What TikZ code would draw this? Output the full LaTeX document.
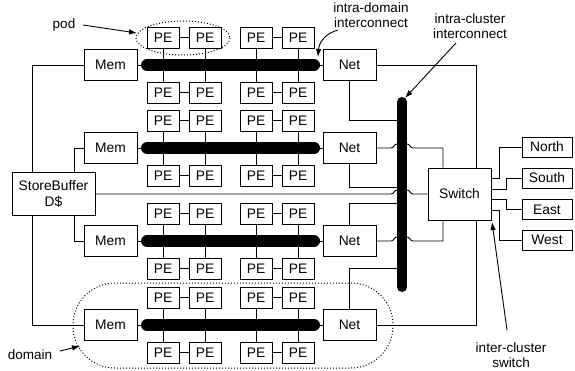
\documentclass[tikz,border=0pt]{standalone}
\usepackage{fontspec}
\setmainfont{Liberation Sans}
\usetikzlibrary{arrows.meta,calc}
\begin{document}
\begin{tikzpicture}[x=1pt,y=-1pt,line width=0.9pt,
  box/.style={draw,fill=white,inner sep=0pt,font=\fontsize{13.8}{16}\selectfont},
  pebox/.style={box,minimum width=32pt,minimum height=21pt},
  membox/.style={box,minimum width=53pt,minimum height=31pt},
  dirbox/.style={box,minimum width=50pt,minimum height=20pt},
  bus/.style={line width=12pt,line cap=round},
  vbus/.style={line width=10pt,line cap=round},
  lbl/.style={font=\fontsize{13.5}{15}\selectfont,align=center,inner sep=0pt},
  pointer/.style={-{Latex[length=8pt,width=5.5pt]},line width=0.9pt},
  dots/.style={dotted,line width=1pt}]
\useasboundingbox (0,0) rectangle (575,370);
% ---------------- nodes ----------------
\foreach \r/\B in {1/65,2/148,3/241,4/325}{
  \node[membox] (mem\r) at (110.5,\B) {Mem};
  \node[membox] (net\r) at (349.5,\B) {Net};
  \coordinate (busL\r) at (147,\B);
  \coordinate (busR\r) at (314,\B);
  \foreach \c/\X in {1/163,2/205,3/256,4/298}{
    \node[pebox] (pe\r\c t) at (\X,\B-27.5) {PE};
    \node[pebox] (pe\r\c b) at (\X,\B+27.5) {PE};
  }
}
\node[box,minimum width=83pt,minimum height=43pt,align=center] (sb) at (53.5,194) {StoreBuffer\\D\$};
\node[box,minimum width=63pt,minimum height=52pt] (sw) at (459.5,194) {Switch};
\node[dirbox] (dN) at (547,147) {North};
\node[dirbox] (dS) at (547,178) {South};
\node[dirbox] (dE) at (547,209.5) {East};
\node[dirbox] (dW) at (547,240) {West};
\coordinate (vbT) at (402,102);
\coordinate (vbB) at (402,287);
\coordinate (t1) at (402,120);
\coordinate (t2) at (402,187);
\coordinate (t3) at (402,203);
\coordinate (t4) at (402,268);
% ---------------- wires ----------------
\foreach \r in {1,2,3,4}{
  \draw (mem\r) -- (net\r);
  \foreach \c in {1,2,3,4}{
    \draw (pe\r\c t) -- (pe\r\c t |- busL\r);
    \draw (pe\r\c b) -- (pe\r\c b |- busL\r);
  }
  \draw (pe\r1t) -- (pe\r2t);
  \draw (pe\r3t) -- (pe\r4t);
  \draw (pe\r1b) -- (pe\r2b);
  \draw (pe\r3b) -- (pe\r4b);
}
% memory side
\draw (mem1.west) -| ([xshift=-21.5pt]sb.north);
\draw (mem4.west) -| ([xshift=-21.5pt]sb.south);
\draw (mem2.west) -| ([xshift=20.5pt]sb.north);
\draw (mem3.west) -| ([xshift=20.5pt]sb.south);
% net to intra-cluster bus
\draw (net1.south) |- (t1);
\draw (net2.south) |- (t2);
\draw (net3.north) |- (t3);
\draw (net4.north) |- (t4);
% net to switch
\draw (net1.east) -| ([xshift=16.5pt]sw.north);
\draw (net4.east) -| ([xshift=16.5pt]sw.south);
\draw (net2.east) -- (391,148) .. controls (394,148) and (394,144) .. (397,144) -- (407,144)
      .. controls (410,144) and (410,148) .. (413,148) -| ([xshift=-16.5pt]sw.north);
\draw (net3.east) -- (391,241) .. controls (394,241) and (394,237) .. (397,237) -- (407,237)
      .. controls (410,237) and (410,241) .. (413,241) -| ([xshift=-16.5pt]sw.south);
\draw (sb.east) -- (391,194) .. controls (394,194) and (394,190) .. (397,190) -- (407,190)
      .. controls (410,190) and (410,194) .. (413,194) -- (sw.west);
% switch to directions
\draw ([yshift=16pt]sw.east) -- ++(8,0) |- (dN.west);
\draw ([yshift=5pt]sw.east) -- ++(15,0) |- (dS.west);
\draw ([yshift=-5pt]sw.east) -- ++(15,0) |- (dE.west);
\draw ([yshift=-16pt]sw.east) -- ++(8,0) |- (dW.west);
% ---------------- buses ----------------
\foreach \r in {1,2,3,4}{
  \draw[bus] (busL\r) -- (busR\r);
}
\draw[vbus] (vbT) -- (vbB);
% ---------------- groups ----------------
\draw[dots] (183,38) ellipse [x radius=47, y radius=17];
\draw[dots,rounded corners=42pt] (73,283) rectangle (393,368);
% ---------------- labels ----------------
\node[lbl,anchor=base] (lpod) at (64,28) {pod};
\node[lbl,anchor=base] (ldom) at (30,359) {domain};
\node[lbl,anchor=north] (lidi) at (371,2) {intra-domain\\interconnect};
\node[lbl,anchor=north] (licl) at (470,13) {intra-cluster\\interconnect};
\node[lbl,anchor=north] (lics) at (511,342) {inter-cluster\\switch};
\coordinate (apod) at (137,33);
\coordinate (adom) at (80,346);
\coordinate (aidi) at (318,57);
\coordinate (aicl) at (405,98);
\coordinate (aics) at (492,222);
\draw[pointer] (83,25) -- (apod);
\draw[pointer] (60,351) -- (adom);
\draw[pointer] (338,30) .. controls (326,33) and (319,42) .. (aidi);
\draw[pointer] (456,43) -- (aicl);
\draw[pointer] (507,330) -- (aics);
\end{tikzpicture}
\end{document}
